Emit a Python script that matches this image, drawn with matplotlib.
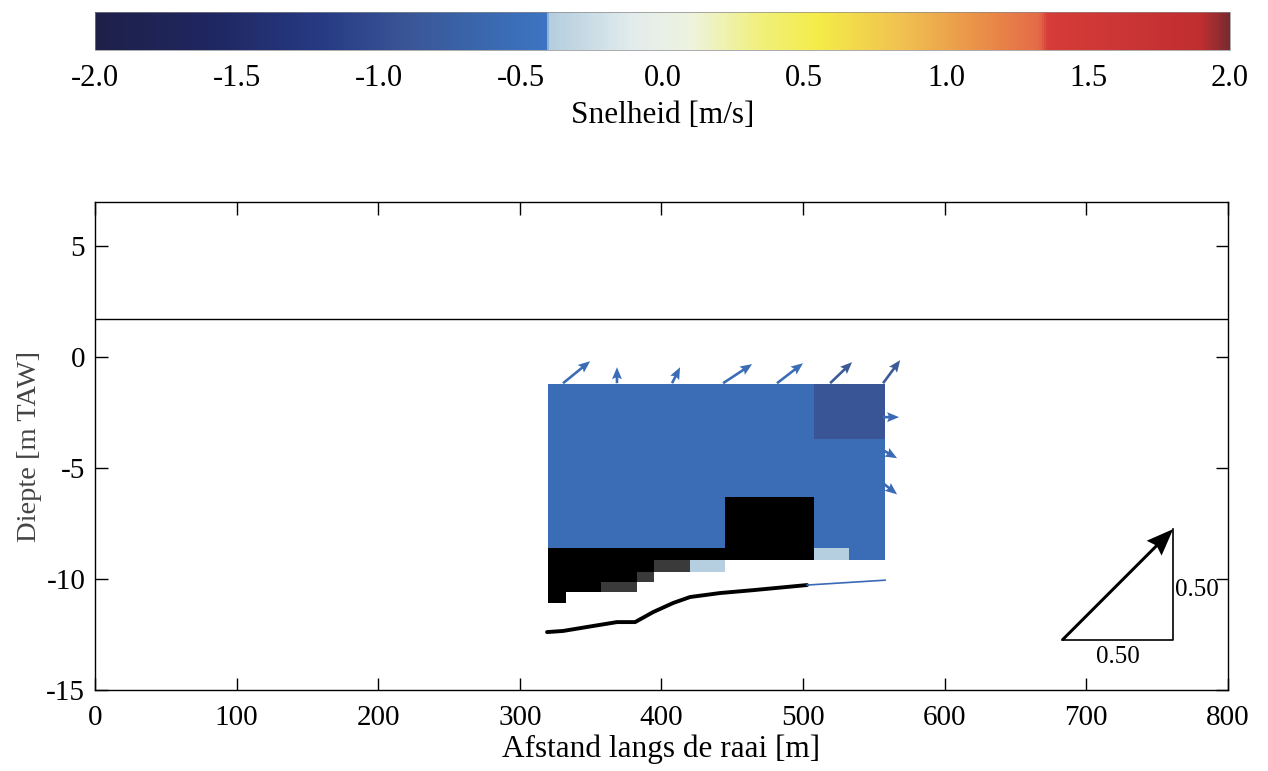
import numpy as np
import matplotlib
matplotlib.use("Agg")
import matplotlib.pyplot as plt
from matplotlib.colors import LinearSegmentedColormap, Normalize

plt.rcParams['font.family'] = ['Liberation Serif', 'DejaVu Serif']
plt.rcParams['axes.unicode_minus'] = False

# --- data ---------------------------------------------------------------
# colour scale (velocity [m/s] -> colour)
cmap_nodes = [-2.0, -1.6, -1.2, -0.9, -0.55, -0.41, -0.40, -0.1, 0.1,
              0.35, 0.55, 0.85, 1.1, 1.33, 1.36, 1.9, 2.0]
cmap_colors = ['#1e2048', '#1f2660', '#263a84', '#3a5596', '#3a6db5',
               '#3d74c2', '#b3cddf', '#e3ecec', '#eef3df', '#f0f07a',
               '#f4ec48', '#f0c050', '#ea9448', '#e46a48', '#d63c38',
               '#c02e30', '#7a2a30']

# velocity cells: 19 columns of 12.5 m, irregular depth rows
x_edges = [320 + 12.5 * i for i in range(20)]
z_edges = [-1.2, -3.7, -6.3, -8.6, -9.15, -9.7, -10.15, -10.6, -11.1]

N = np.nan
B = -0.55   # main blue
D = -0.9    # darker blue
L = -0.38   # pale blue
K = -9.0    # black (below scale)
G = 9.0     # dithered / grey (above scale)
cells = [
    [B, B, B, B, B, B, B, B, B, B, B, B, B, B, B, D, D, D, D],
    [B, B, B, B, B, B, B, B, B, B, B, B, B, B, B, B, B, B, B],
    [B, B, B, B, B, B, B, B, B, B, K, K, K, K, K, B, B, B, B],
    [K, K, K, K, K, K, K, K, K, K, K, K, K, K, K, L, L, B, B],
    [K, K, K, K, K, K, G, G, L, L, N, N, N, N, N, N, N, N, N],
    [K, K, K, K, K, G, N, N, N, N, N, N, N, N, N, N, N, N, N],
    [K, K, K, G, G, N, N, N, N, N, N, N, N, N, N, N, N, N, N],
    [K, N, N, N, N, N, N, N, N, N, N, N, N, N, N, N, N, N, N],
]

# velocity vectors (start position, components in m/s)
arrow_x = [330.5, 368.6, 407.5, 443.5, 481.6, 519.1, 556.5, 556.5, 556.5, 556.5]
arrow_z = [-1.17, -1.17, -1.17, -1.17, -1.17, -1.17, -1.17, -2.7, -4.19, -5.68]
arrow_u = [0.122, 0.0, 0.036, 0.131, 0.117, 0.099, 0.077, 0.072, 0.063, 0.063]
arrow_v = [0.099, 0.072, 0.072, 0.086, 0.090, 0.095, 0.104, 0.0, -0.036, -0.050]
arrow_colors = ['#3a6db5'] * 5 + ['#3d5a98', '#3d5a98'] + ['#3a6ab5'] * 3

# bed profile
bed_x = [319.2, 330.5, 347.5, 368.6, 381.4, 394.1, 408.2, 420.2, 441.4, 464.7, 502.8]
bed_z = [-12.39, -12.34, -12.16, -11.94, -11.94, -11.49, -11.08, -10.81, -10.63, -10.50, -10.27]
bed_ext_x = [502.8, 557.9]
bed_ext_z = [-10.27, -10.05]

water_level = 1.71

# reference arrow
ref_x, ref_z, ref_val = 683.0, -12.75, 0.5

# --- plotting -----------------------------------------------------------
W, H, DPI = 12.68, 7.71, 100
fig = plt.figure(figsize=(W, H), dpi=DPI)
ax = fig.add_axes([0.0749, 0.1051, 0.8935, 0.6329])
cax = fig.add_axes([0.0749, 0.9351, 0.8951, 0.0493])

pos = [(v + 2.0) / 4.0 for v in cmap_nodes]
cmap = LinearSegmentedColormap.from_list('snelheid', list(zip(pos, cmap_colors)), N=512)
cmap.set_under('black')
cmap.set_over('#3a3a3a')
cmap.set_bad((1, 1, 1, 0))
norm = Normalize(vmin=-2, vmax=2)

vals = np.ma.masked_invalid(np.array(cells, dtype=float))
mesh = ax.pcolormesh(x_edges, z_edges, vals, cmap=cmap, norm=norm, shading='flat')

ax.axhline(water_level, color='black', lw=1.0)
ax.plot(bed_x, bed_z, color='black', lw=2.8, solid_capstyle='round')
ax.plot(bed_ext_x, bed_ext_z, color='#3a6ab5', lw=1.2)

px_per_unit = 222.0  # 1 m/s -> 222 pixels
ax.quiver(arrow_x, arrow_z, arrow_u, arrow_v, color=arrow_colors,
          angles='uv', scale_units='dots', scale=1.0 / px_per_unit,
          units='dots', width=2.6, headwidth=3.8, headlength=4.6,
          headaxislength=4.0, zorder=3)

ax.set_xlim(0, 800)
ax.set_ylim(-15, 7)

# reference arrow with its legs
bbox = ax.get_position()
x_per_px = 800.0 / (bbox.width * W * DPI)
z_per_px = 22.0 / (bbox.height * H * DPI)
leg_dx = ref_val * px_per_unit * x_per_px
leg_dz = ref_val * px_per_unit * z_per_px
ax.plot([ref_x, ref_x + leg_dx, ref_x + leg_dx],
        [ref_z, ref_z, ref_z + leg_dz], color='black', lw=1.2)
ax.quiver([ref_x], [ref_z], [ref_val], [ref_val], color='black',
          angles='uv', scale_units='dots', scale=1.0 / px_per_unit,
          units='dots', width=3.0, headwidth=7, headlength=9,
          headaxislength=8, zorder=4)
ax.text(ref_x + leg_dx / 2, ref_z - 0.25, '0.50', ha='center', va='top', fontsize=18)
ax.text(ref_x + leg_dx + 1, ref_z + leg_dz * 0.45, '0.50', ha='left', va='center', fontsize=18)

ax.set_xticks(range(0, 801, 100))
ax.set_yticks([-15, -10, -5, 0, 5])
ax.tick_params(direction='in', top=True, right=True, length=9, width=1,
               labelsize=21)
ax.tick_params(axis='x', pad=11)
ax.tick_params(axis='y', pad=7)
ax.set_xlabel('Afstand langs de raai [m]', fontsize=22.5, labelpad=2)
ax.set_ylabel('Diepte [m TAW]', fontsize=20.5, color='#444444', labelpad=3)
for s in ax.spines.values():
    s.set_linewidth(1.0)

cb = fig.colorbar(mesh, cax=cax, orientation='horizontal', extend='neither')
cb.set_ticks([-2, -1.5, -1, -0.5, 0, 0.5, 1, 1.5, 2])
cb.set_ticklabels(['-2.0', '-1.5', '-1.0', '-0.5', '0.0', '0.5', '1.0', '1.5', '2.0'])
cb.ax.tick_params(length=0, labelsize=22, pad=10)
cb.outline.set_linewidth(0.5)
cb.outline.set_edgecolor('#888888')
cb.set_label('Snelheid [m/s]', fontsize=22.5, labelpad=6)

fig.savefig('out.png', dpi=DPI)
